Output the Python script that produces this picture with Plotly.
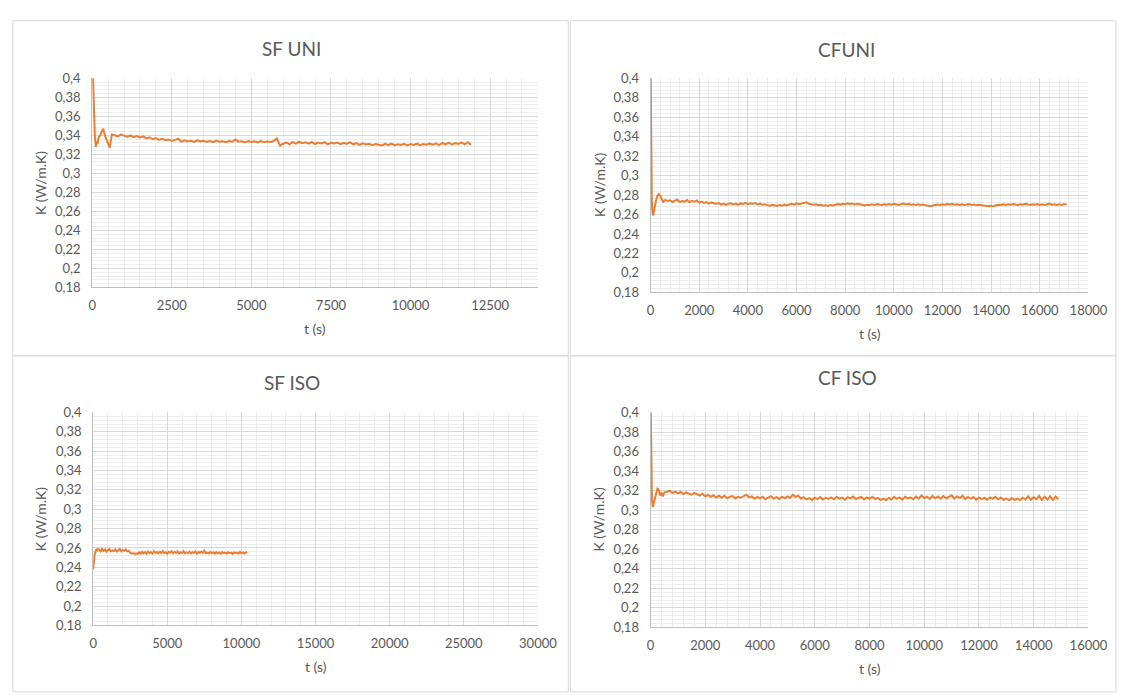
import plotly.graph_objects as go

# ---------------- data ----------------
sfuni_t = [0, 40, 60, 80, 100, 120, 140, 170, 200, 250, 300, 350, 400, 450, 500, 550, 580, 620,
           700, 800, 900, 1000, 1100, 1200, 1300, 1400, 1500, 1600,
           1700, 1800, 1900, 2000, 2100, 2200, 2300, 2400, 2500, 2600,
           2700, 2800, 2900, 3000, 3100, 3200, 3300, 3400, 3500, 3600,
           3700, 3800, 3900, 4000, 4100, 4200, 4300, 4400, 4500, 4600,
           4700, 4800, 4900, 5000, 5100, 5200, 5300, 5400, 5500, 5600,
           5700, 5800, 5900, 6000, 6100, 6200, 6300, 6400, 6500, 6600,
           6700, 6800, 6900, 7000, 7100, 7200, 7300, 7400, 7500, 7600,
           7700, 7800, 7900, 8000, 8100, 8200, 8300, 8400, 8500, 8600,
           8700, 8800, 8900, 9000, 9100, 9200, 9300, 9400, 9500, 9600,
           9700, 9800, 9900, 10000, 10100, 10200, 10300, 10400, 10500, 10600,
           10700, 10800, 10900, 11000, 11100, 11200, 11300, 11400, 11500, 11600,
           11700, 11800, 11900]
sfuni_k = [0.43, 0.37, 0.355, 0.343, 0.332, 0.328, 0.334, 0.331, 0.338, 0.340, 0.344, 0.347, 0.340, 0.336, 0.331, 0.327, 0.333, 0.341,
           0.3402, 0.3390, 0.3408, 0.3394, 0.3386, 0.3399, 0.3381, 0.3393, 0.3378, 0.3389,
           0.3368, 0.3380, 0.3359, 0.3371, 0.3352, 0.3363, 0.3348, 0.3357, 0.3341, 0.3352,
           0.3365, 0.3332, 0.3348, 0.3336, 0.3344, 0.3331, 0.3347, 0.3335, 0.3342, 0.3330,
           0.3341, 0.3329, 0.3345, 0.3332, 0.3339, 0.3327, 0.3340, 0.3333, 0.3356, 0.3334,
           0.3338, 0.3325, 0.3341, 0.3330, 0.3337, 0.3326, 0.3340, 0.3329, 0.3336, 0.3331,
           0.3340, 0.3368, 0.3292, 0.3312, 0.3327, 0.3305, 0.3330, 0.3314, 0.3335, 0.3318,
           0.3326, 0.3312, 0.3331, 0.3309, 0.3324, 0.3315, 0.3328, 0.3306, 0.3321, 0.3314,
           0.3325, 0.3308, 0.3322, 0.3311, 0.3328, 0.3305, 0.3319, 0.3300, 0.3316, 0.3304,
           0.3312, 0.3297, 0.3309, 0.3301, 0.3294, 0.3310, 0.3298, 0.3313, 0.3296, 0.3307,
           0.3300, 0.3312, 0.3295, 0.3309, 0.3299, 0.3314, 0.3296, 0.3308, 0.3301, 0.3315,
           0.3303, 0.3317, 0.3298, 0.3320, 0.3306, 0.3324, 0.3302, 0.3318, 0.3309, 0.3326,
           0.3305, 0.3328, 0.3300]

cfuni_t = [0, 15, 30, 50, 70, 100, 130, 170, 220, 280, 340, 400, 460, 520, 600, 700,
           800, 900, 1000, 1100, 1200, 1300, 1400, 1500, 1600, 1700,
           1800, 1900, 2000, 2100, 2200, 2300, 2400, 2500, 2600, 2700,
           2800, 2900, 3000, 3100, 3200, 3300, 3400, 3500, 3600, 3700,
           3800, 3900, 4000, 4100, 4200, 4300, 4400, 4500, 4600, 4700,
           4800, 4900, 5000, 5100, 5200, 5300, 5400, 5500, 5600, 5700,
           5800, 5900, 6000, 6100, 6200, 6300, 6400, 6500, 6600, 6700,
           6800, 6900, 7000, 7100, 7200, 7300, 7400, 7500, 7600, 7700,
           7800, 7900, 8000, 8100, 8200, 8300, 8400, 8500, 8600, 8700,
           8800, 8900, 9000, 9100, 9200, 9300, 9400, 9500, 9600, 9700,
           9800, 9900, 10000, 10100, 10200, 10300, 10400, 10500, 10600, 10700,
           10800, 10900, 11000, 11100, 11200, 11300, 11400, 11500, 11600, 11700,
           11800, 11900, 12000, 12100, 12200, 12300, 12400, 12500, 12600, 12700,
           12800, 12900, 13000, 13100, 13200, 13300, 13400, 13500, 13600, 13700,
           13800, 13900, 14000, 14100, 14200, 14300, 14400, 14500, 14600, 14700,
           14800, 14900, 15000, 15100, 15200, 15300, 15400, 15500, 15600, 15700,
           15800, 15900, 16000, 16100, 16200, 16300, 16400, 16500, 16600, 16700,
           16800, 16900, 17000, 17100]
cfuni_k = [0.42, 0.35, 0.293, 0.275, 0.265, 0.259, 0.262, 0.268, 0.274, 0.279, 0.281, 0.279, 0.275, 0.273, 0.275, 0.2740,
           0.2745, 0.2730, 0.2741, 0.2752, 0.2728, 0.2739, 0.2733, 0.2748, 0.2726, 0.2740,
           0.2731, 0.2745, 0.2722, 0.2730, 0.2719, 0.2728, 0.2712, 0.2724, 0.2716, 0.2710,
           0.2718, 0.2702, 0.2713, 0.2699, 0.2710, 0.2715, 0.2703, 0.2712, 0.2700, 0.2714,
           0.2709, 0.2720, 0.2707, 0.2716, 0.2711, 0.2718, 0.2704, 0.2712, 0.2700, 0.2706,
           0.2696, 0.2689, 0.2699, 0.2692, 0.2687, 0.2697, 0.2690, 0.2701, 0.2694, 0.2703,
           0.2710, 0.2702, 0.2714, 0.2706, 0.2712, 0.2718, 0.2725, 0.2711, 0.2707, 0.2700,
           0.2704, 0.2695, 0.2699, 0.2690, 0.2696, 0.2688, 0.2697, 0.2692, 0.2700, 0.2708,
           0.2702, 0.2711, 0.2705, 0.2714, 0.2708, 0.2712, 0.2703, 0.2710, 0.2706, 0.2700,
           0.2694, 0.2701, 0.2697, 0.2705, 0.2699, 0.2708, 0.2702, 0.2697, 0.2706, 0.2700,
           0.2708, 0.2701, 0.2711, 0.2703, 0.2698, 0.2707, 0.2712, 0.2704, 0.2709, 0.2700,
           0.2706, 0.2699, 0.2704, 0.2697, 0.2702, 0.2694, 0.2690, 0.2686, 0.2692, 0.2698,
           0.2703, 0.2697, 0.2706, 0.2700, 0.2708, 0.2702, 0.2709, 0.2701, 0.2705, 0.2698,
           0.2704, 0.2697, 0.2702, 0.2708, 0.2699, 0.2703, 0.2695, 0.2701, 0.2696, 0.2692,
           0.2688, 0.2684, 0.2690, 0.2686, 0.2695, 0.2701, 0.2697, 0.2704, 0.2699, 0.2706,
           0.2700, 0.2707, 0.2702, 0.2698, 0.2705, 0.2700, 0.2709, 0.2703, 0.2698, 0.2706,
           0.2701, 0.2708, 0.2699, 0.2704, 0.2697, 0.2705, 0.2712, 0.2700, 0.2706, 0.2698,
           0.2704, 0.2697, 0.2708, 0.2702]

sfiso_t = [0, 30, 60, 100, 150, 200, 250, 300,
           400, 500, 600, 700, 800, 900, 1000, 1100, 1200, 1300,
           1400, 1500, 1600, 1700, 1800, 1900, 2000, 2100, 2200, 2300,
           2400, 2500, 2600, 2700, 2800, 2900, 3000, 3100, 3200, 3300,
           3400, 3500, 3600, 3700, 3800, 3900, 4000, 4100, 4200, 4300,
           4400, 4500, 4600, 4700, 4800, 4900, 5000, 5100, 5200, 5300,
           5400, 5500, 5600, 5700, 5800, 5900, 6000, 6100, 6200, 6300,
           6400, 6500, 6600, 6700, 6800, 6900, 7000, 7100, 7200, 7300,
           7400, 7500, 7600, 7700, 7800, 7900, 8000, 8100, 8200, 8300,
           8400, 8500, 8600, 8700, 8800, 8900, 9000, 9100, 9200, 9300,
           9400, 9500, 9600, 9700, 9800, 9900, 10000, 10100, 10200, 10300,
           10400]
sfiso_k = [0.238, 0.244, 0.249, 0.253, 0.256, 0.258, 0.2575, 0.259,
           0.2581, 0.2566, 0.2590, 0.2570, 0.2584, 0.2562, 0.2579, 0.2588, 0.2565, 0.2576,
           0.2569, 0.2585, 0.2563, 0.2578, 0.2590, 0.2566, 0.2580, 0.2571, 0.2584, 0.2565,
           0.2572, 0.2550, 0.2541, 0.2548, 0.2538, 0.2546, 0.2540, 0.2555, 0.2543, 0.2560,
           0.2547, 0.2558, 0.2541, 0.2564, 0.2549, 0.2556, 0.2543, 0.2567, 0.2550, 0.2558,
           0.2544, 0.2562, 0.2548, 0.2569, 0.2546, 0.2556, 0.2541, 0.2560, 0.2551, 0.2566,
           0.2545, 0.2559, 0.2549, 0.2565, 0.2543, 0.2557, 0.2548, 0.2568, 0.2546, 0.2554,
           0.2547, 0.2562, 0.2544, 0.2556, 0.2550, 0.2566, 0.2542, 0.2558, 0.2551, 0.2563,
           0.2548, 0.2572, 0.2546, 0.2553, 0.2544, 0.2559, 0.2549, 0.2555, 0.2542, 0.2557,
           0.2546, 0.2554, 0.2541, 0.2558, 0.2548, 0.2553, 0.2543, 0.2556, 0.2547, 0.2552,
           0.2540, 0.2556, 0.2546, 0.2553, 0.2542, 0.2559, 0.2547, 0.2554, 0.2544, 0.2557,
           0.2549]

cfiso_t = [0, 15, 30, 50, 80, 110, 150, 200, 250, 300, 350, 400, 450, 500, 600,
           700, 800, 900, 1000, 1100, 1200, 1300, 1400, 1500, 1600,
           1700, 1800, 1900, 2000, 2100, 2200, 2300, 2400, 2500, 2600,
           2700, 2800, 2900, 3000, 3100, 3200, 3300, 3400, 3500, 3600,
           3700, 3800, 3900, 4000, 4100, 4200, 4300, 4400, 4500, 4600,
           4700, 4800, 4900, 5000, 5100, 5200, 5300, 5400, 5500, 5600,
           5700, 5800, 5900, 6000, 6100, 6200, 6300, 6400, 6500, 6600,
           6700, 6800, 6900, 7000, 7100, 7200, 7300, 7400, 7500, 7600,
           7700, 7800, 7900, 8000, 8100, 8200, 8300, 8400, 8500, 8600,
           8700, 8800, 8900, 9000, 9100, 9200, 9300, 9400, 9500, 9600,
           9700, 9800, 9900, 10000, 10100, 10200, 10300, 10400, 10500, 10600,
           10700, 10800, 10900, 11000, 11100, 11200, 11300, 11400, 11500, 11600,
           11700, 11800, 11900, 12000, 12100, 12200, 12300, 12400, 12500, 12600,
           12700, 12800, 12900, 13000, 13100, 13200, 13300, 13400, 13500, 13600,
           13700, 13800, 13900, 14000, 14100, 14200, 14300, 14400, 14500, 14600,
           14700, 14800, 14900]
cfiso_k = [0.42, 0.36, 0.33, 0.312, 0.303, 0.307, 0.312, 0.318, 0.322, 0.321, 0.315, 0.318, 0.314, 0.318, 0.319,
           0.3198, 0.3176, 0.3190, 0.3172, 0.3186, 0.3165, 0.3181, 0.3170, 0.3158, 0.3176,
           0.3162, 0.3150, 0.3168, 0.3141, 0.3155, 0.3136, 0.3152, 0.3130, 0.3147, 0.3128,
           0.3148, 0.3122, 0.3139, 0.3145, 0.3119, 0.3136, 0.3127, 0.3146, 0.3158, 0.3132,
           0.3141, 0.3116, 0.3135, 0.3120, 0.3138, 0.3112, 0.3130, 0.3143, 0.3118, 0.3134,
           0.3115, 0.3137, 0.3122, 0.3140, 0.3126, 0.3157, 0.3136, 0.3148, 0.3118, 0.3133,
           0.3110, 0.3124, 0.3104, 0.3128, 0.3113, 0.3135, 0.3109, 0.3127, 0.3116, 0.3131,
           0.3112, 0.3136, 0.3118, 0.3128, 0.3106, 0.3132, 0.3121, 0.3140, 0.3114, 0.3127,
           0.3135, 0.3110, 0.3130, 0.3117, 0.3138, 0.3114, 0.3125, 0.3104, 0.3118, 0.3102,
           0.3125, 0.3110, 0.3136, 0.3115, 0.3130, 0.3108, 0.3138, 0.3120, 0.3131, 0.3112,
           0.3140, 0.3118, 0.3150, 0.3124, 0.3137, 0.3115, 0.3146, 0.3122, 0.3139, 0.3117,
           0.3144, 0.3121, 0.3135, 0.3152, 0.3118, 0.3140, 0.3125, 0.3148, 0.3113, 0.3136,
           0.3119, 0.3134, 0.3108, 0.3130, 0.3114, 0.3128, 0.3106, 0.3131, 0.3117, 0.3138,
           0.3112, 0.3129, 0.3104, 0.3120, 0.3101, 0.3124, 0.3106, 0.3118, 0.3103, 0.3127,
           0.3110, 0.3141, 0.3106, 0.3133, 0.3112, 0.3145, 0.3104, 0.3138, 0.3109, 0.3142,
           0.3106, 0.3140, 0.3112]

titles = ["SF UNI", "CFUNI", "SF ISO", "CF ISO"]
x_max = [14000, 18000, 30000, 16000]
x_major = [2500, 2000, 5000, 2000]
y_label = "K (W/m.K)"
x_label = "t (s)"

# ---------------- layout geometry (pixels) ----------------
W, H = 1129, 695
FONT = "Lato, 'Open Sans', sans-serif"
TXT = "#595959"
ORANGE = "#ED7D31"

# plot areas: (left, right, top, bottom)
areas = [(90, 545, 72, 286), (660, 1107, 72, 291), (91, 545, 414, 632), (660, 1107, 414, 634)]
title_pos = [(293, 41), (860, 42), (294, 383), (861, 378)]
ytitle_x = [38, 608, 38, 607]
panels = [(9, 576, 13, 356), (578, 1135, 13, 356), (9, 576, 356, 700), (578, 1135, 356, 700)]


def px(x):
    return x / W


def py(y):
    return 1 - y / H


series = [(sfuni_t, sfuni_k), (cfuni_t, cfuni_k), (sfiso_t, sfiso_k), (cfiso_t, cfiso_k)]

fig = go.Figure()
annotations = []
shapes = []
layout = {}
for i, ((t, k), (l, r, tp, b)) in enumerate(zip(series, areas)):
    n = "" if i == 0 else str(i + 1)
    fig.add_trace(go.Scatter(x=t, y=k, mode="lines", xaxis="x" + n, yaxis="y" + n,
                             line=dict(color=ORANGE, width=2), showlegend=False,
                             hoverinfo="skip"))
    layout["xaxis" + n] = dict(
        domain=[px(l), px(r)], anchor="y" + n, range=[0, x_max[i]],
        tick0=0, dtick=x_major[i], tickformat="d",
        showgrid=True, gridcolor="#d9d9d9", gridwidth=1,
        minor=dict(dtick=x_major[i] / 5, tick0=0, showgrid=True, gridcolor="#ededed", gridwidth=1),
        showline=True, linecolor="#bfbfbf", linewidth=1, zeroline=False,
        ticks="", ticklabelstandoff=6,
        tickfont=dict(family=FONT, size=13, color=TXT), fixedrange=True)
    layout["yaxis" + n] = dict(
        domain=[py(b), py(tp)], anchor="x" + n, range=[0.18, 0.4],
        tick0=0, dtick=0.02,
        showgrid=True, gridcolor="#d9d9d9", gridwidth=1,
        minor=dict(dtick=0.004, tick0=0, showgrid=True, gridcolor="#ededed", gridwidth=1),
        showline=True, linecolor="#bfbfbf", linewidth=1, zeroline=False,
        ticks="", ticklabelstandoff=8,
        tickfont=dict(family=FONT, size=13, color=TXT), fixedrange=True)
    annotations.append(dict(x=px(title_pos[i][0]), y=py(title_pos[i][1]), xref="paper", yref="paper",
                            text=titles[i], showarrow=False, xanchor="center", yanchor="middle",
                            font=dict(family=FONT, size=19, color=TXT)))
    annotations.append(dict(x=px((l + r) / 2), y=py(b + 42), xref="paper", yref="paper",
                            text=x_label, showarrow=False, xanchor="center", yanchor="middle",
                            font=dict(family=FONT, size=14, color=TXT)))
    annotations.append(dict(x=px(ytitle_x[i]), y=py((tp + b) / 2), xref="paper", yref="paper",
                            text=y_label, showarrow=False, xanchor="center", yanchor="middle",
                            textangle=-90, font=dict(family=FONT, size=14, color=TXT)))
    pl, pr, pt, pb = panels[i]
    shapes.append(dict(type="rect", xref="paper", yref="paper", x0=px(pl), x1=px(pr),
                       y0=py(pb), y1=py(pt), line=dict(color="#d9d9d9", width=1),
                       fillcolor="rgba(0,0,0,0)", layer="below"))

fig.update_layout(**layout)
fig.update_layout(width=W, height=H, margin=dict(l=0, r=0, t=0, b=0),
                  paper_bgcolor="white", plot_bgcolor="white",
                  separators=",.", annotations=annotations, shapes=shapes,
                  font=dict(family=FONT, color=TXT))

fig.write_html("out.html", config={"displayModeBar": False})
